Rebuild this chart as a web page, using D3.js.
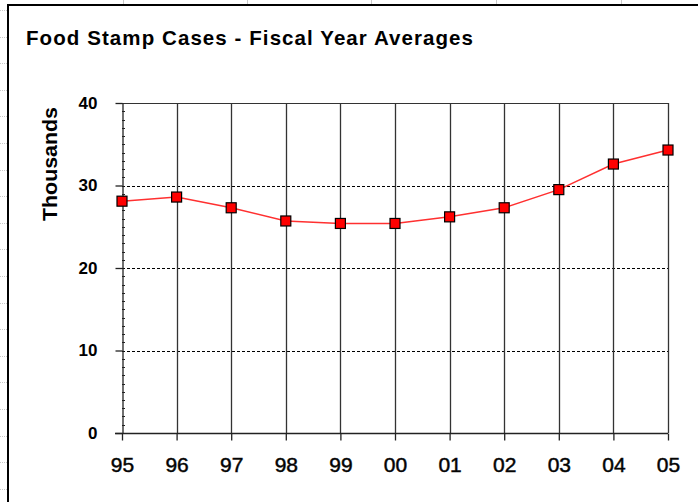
<!DOCTYPE html>
<html>
<head>
<meta charset="utf-8">
<script src="https://cdnjs.cloudflare.com/ajax/libs/d3/7.8.5/d3.min.js"></script>
<style>
html,body{margin:0;padding:0;background:#fff;}
svg{display:block;}
text{font-family:"Liberation Sans",Arial,sans-serif;fill:#000;}
</style>
</head>
<body>
<svg id="chart" width="698" height="502"></svg>
<script>
const title = "Food Stamp Cases - Fiscal Year Averages";
const yLabel = "Thousands";
const categories = ["95","96","97","98","99","00","01","02","03","04","05"];
const values = [28.1, 28.6, 27.3, 25.7, 25.4, 25.4, 26.2, 27.3, 29.5, 32.6, 34.3];
const yTicks = [0, 10, 20, 30, 40];
const yMinorTicks = d3.range(0, 41, 1);

const svg = d3.select("#chart");
const W = 698, H = 502;
svg.append("rect").attr("width", W).attr("height", H).attr("fill", "#fff");

// faint spreadsheet gridlines outside the chart frame
const deco = svg.append("g").attr("stroke", "#c8c8c8").attr("stroke-width", 1);
for (let y = 10; y < H; y += 26.6) {
  deco.append("line").attr("x1", 0).attr("x2", 7).attr("y1", Math.round(y) + 0.5).attr("y2", Math.round(y) + 0.5)
    .attr("stroke-dasharray", "1,1");
}
[123, 247, 371, 496, 621].forEach(x => {
  deco.append("line").attr("x1", x + 0.5).attr("x2", x + 0.5).attr("y1", 0).attr("y2", 4);
});

// chart frame
svg.append("path").attr("d", `M8,${H} L8,5 L${W},5`).attr("fill", "none")
  .attr("stroke", "#000").attr("stroke-width", 2);

// title
svg.append("text").attr("x", 26).attr("y", 45).attr("font-size", 20.5).attr("font-weight", "bold")
  .attr("textLength", 447).attr("lengthAdjust", "spacing").attr("fill", "#111").text(title);

const m = {left: 122, right: 668, top: 103, bottom: 433};
const x = d3.scalePoint().domain(categories).range([m.left, m.right]);
const y = d3.scaleLinear().domain([0, 40]).range([m.bottom, m.top]);

const g = svg.append("g");

// horizontal dashed gridlines
g.append("g").selectAll("line").data(yTicks.filter(d => d > 0 && d < 40)).join("line")
  .attr("x1", m.left).attr("x2", m.right)
  .attr("y1", d => Math.round(y(d)) + 0.5).attr("y2", d => Math.round(y(d)) + 0.5)
  .attr("stroke", "#000").attr("stroke-width", 1).attr("stroke-dasharray", "3,2");

// top border line
g.append("line").attr("x1", m.left).attr("x2", m.right)
  .attr("y1", Math.round(y(40)) + 0.5).attr("y2", Math.round(y(40)) + 0.5)
  .attr("stroke", "#333").attr("stroke-width", 1.2);

// vertical gridlines
g.append("g").selectAll("line").data(categories.slice(1)).join("line")
  .attr("x1", d => Math.round(x(d)) + 0.5).attr("x2", d => Math.round(x(d)) + 0.5)
  .attr("y1", m.top).attr("y2", m.bottom)
  .attr("stroke", "#333").attr("stroke-width", 1.3);

// y minor ticks (inside)
g.append("g").selectAll("line").data(yMinorTicks.filter(d => d % 10 !== 0)).join("line")
  .attr("x1", m.left).attr("x2", m.left + 3)
  .attr("y1", d => Math.round(y(d)) + 0.5).attr("y2", d => Math.round(y(d)) + 0.5)
  .attr("stroke", "#222").attr("stroke-width", 1);

// y axis
const yAxis = d3.axisLeft(y).tickValues(yTicks).tickSize(7).tickPadding(18).tickSizeOuter(0);
const ya = svg.append("g").attr("transform", `translate(${m.left + 0.5},0)`).call(yAxis);
ya.select(".domain").attr("stroke", "#222").attr("stroke-width", 1.3);
ya.selectAll(".tick line").attr("stroke", "#222").attr("stroke-width", 1.3);
ya.selectAll(".tick text").attr("font-size", 17).attr("font-weight", "bold")
  .attr("font-family", "Liberation Sans, Arial, sans-serif").attr("fill", "#000");

// x axis
const xAxis = d3.axisBottom(x).tickSize(7).tickPadding(17).tickSizeOuter(0);
const xa = svg.append("g").attr("transform", `translate(0,${m.bottom + 0.5})`).call(xAxis);
xa.select(".domain").attr("stroke", "#222").attr("stroke-width", 1.3);
xa.selectAll(".tick line").attr("stroke", "#222").attr("stroke-width", 1.3);
xa.selectAll(".tick text").attr("font-size", 21)
  .attr("font-family", "Liberation Sans, Arial, sans-serif").attr("fill", "#111")
  .attr("stroke", "#111").attr("stroke-width", 0.5);
xa.select(".domain").attr("d", `M${m.left - 7},0H${m.right}`);

// y label
svg.append("text").attr("transform", `translate(57,164) rotate(-90)`).attr("text-anchor", "middle")
  .attr("font-size", 21).attr("font-weight", "bold").attr("textLength", 114)
  .attr("lengthAdjust", "spacingAndGlyphs").text(yLabel);

// line
const line = d3.line().x((d, i) => x(categories[i])).y(d => y(d));
svg.append("path").datum(values).attr("d", line).attr("fill", "none")
  .attr("stroke", "#ff3030").attr("stroke-width", 1.5);

// markers
const s = 10;
svg.append("g").selectAll("rect").data(values).join("rect")
  .attr("x", (d, i) => x(categories[i]) - s / 2).attr("y", d => y(d) - s / 2)
  .attr("width", s).attr("height", s)
  .attr("fill", "#ff0000").attr("stroke", "#000").attr("stroke-width", 1.2);
</script>
</body>
</html>
